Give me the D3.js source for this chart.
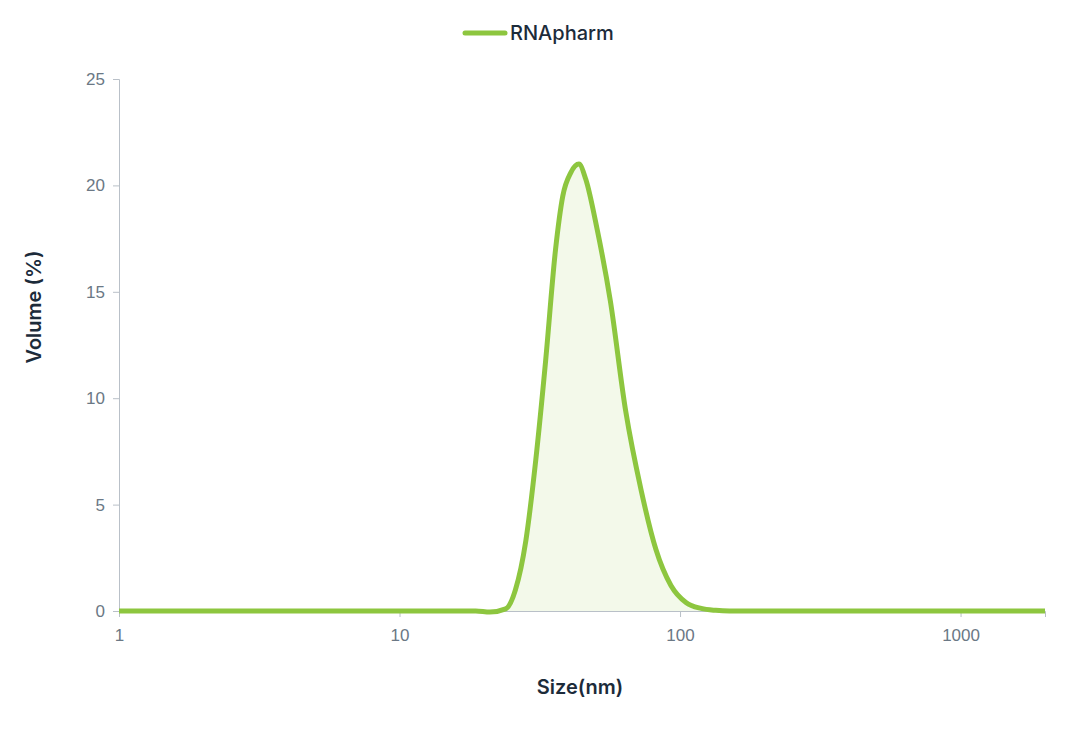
<!DOCTYPE html>
<html>
<head>
<meta charset="utf-8">
<script src="https://cdn.jsdelivr.net/npm/d3@7"></script>
<style>
body { margin: 0; background: #fff; font-family: Inter, "Noto Sans", sans-serif; }
</style>
</head>
<body>
<svg id="chart" width="1092" height="730"></svg>
<script>
const sizes = [1, 10, 18.7, 21, 23.9, 25.9, 28.2, 30.6, 33.2, 36.0, 38.2, 40.8, 43.6, 46.1, 50.7, 56.4, 64, 72.6, 82, 92.8, 105, 119, 134, 150, 300, 2000]
const volumes = [0, 0, 0, -0.05, 0.1, 1.0, 3.3, 7.1, 11.8, 17, 19.5, 20.6, 21, 20.3, 17.9, 14.6, 9.4, 5.7, 2.9, 1.2, 0.4, 0.12, 0.03, 0, 0, 0]
const xTicks = [1, 10, 100, 1000]
const yTicks = [0, 5, 10, 15, 20, 25]
const seriesName = 'RNApharm'

const svg = d3.select('#chart')
const margin = { left: 119, right: 47, top: 79, bottom: 119 }
const width = 1092, height = 730

const x = d3.scaleLog().domain([1, 2000]).range([margin.left, width - margin.right])
const y = d3.scaleLinear().domain([0, 25]).range([height - margin.bottom, margin.top])

const axisColor = '#b9c0c8'
const tickText = '#6b7885'

const yAxis = svg.append('g')
	.attr('transform', `translate(${margin.left},0)`)
	.call(d3.axisLeft(y).tickValues(yTicks).tickSize(6).tickPadding(8))
yAxis.select('.domain').attr('stroke', axisColor)
yAxis.selectAll('line').attr('stroke', axisColor)
yAxis.selectAll('text').attr('fill', tickText).style('font-size', '17px')

const xAxis = svg.append('g')
	.attr('transform', `translate(0,${y(0)})`)
	.call(d3.axisBottom(x).tickValues(xTicks).tickFormat(d3.format('d')).tickSize(6).tickPadding(12))
xAxis.select('.domain').attr('stroke', axisColor)
xAxis.selectAll('line').attr('stroke', axisColor)
xAxis.selectAll('text').attr('fill', tickText).style('font-size', '17px')

const pts = sizes.map((s, i) => [s, volumes[i]])

svg.append('path')
	.datum(pts)
	.attr('fill', '#f3f9ea')
	.attr('d', d3.area().curve(d3.curveMonotoneX).x(d => x(d[0])).y0(y(0)).y1(d => y(Math.max(0, d[1]))))

svg.append('path')
	.datum(pts)
	.attr('fill', 'none')
	.attr('stroke', '#8dc63f')
	.attr('stroke-width', 5)
	.attr('stroke-linejoin', 'round')
	.attr('d', d3.line().curve(d3.curveMonotoneX).x(d => x(d[0])).y(d => y(d[1])))

svg.append('text')
	.attr('x', 580).attr('y', 694)
	.attr('text-anchor', 'middle')
	.attr('fill', '#1c2b3a')
	.style('font-size', '20px').style('font-weight', 600)
	.text('Size(nm)')

svg.append('text')
	.attr('transform', 'translate(41,307) rotate(-90)')
	.attr('text-anchor', 'middle')
	.attr('fill', '#1c2b3a')
	.style('font-size', '20px').style('font-weight', 600)
	.text('Volume (%)')

// legend
svg.append('line')
	.attr('x1', 465).attr('x2', 505).attr('y1', 33).attr('y2', 33)
	.attr('stroke', '#8dc63f').attr('stroke-width', 5).attr('stroke-linecap', 'round')
svg.append('text')
	.attr('x', 510).attr('y', 40)
	.attr('fill', '#1c2b3a')
	.style('font-size', '20px').style('font-weight', 500)
	.text(seriesName)
</script>
</body>
</html>
